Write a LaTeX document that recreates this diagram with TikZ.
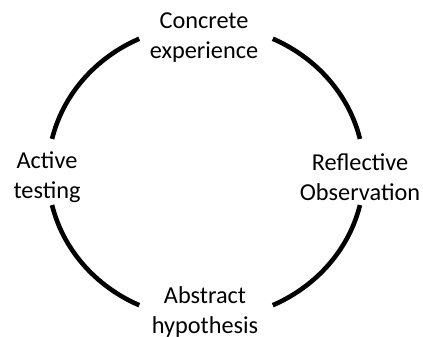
\documentclass[tikz,border=0pt]{standalone}
\usepackage{fontspec}
\setmainfont{Carlito}
\usepackage{tikz}
\usetikzlibrary{positioning, calc}

\tikzset{
	stage/.style = {align=center, font=\fontsize{24.3}{30}\selectfont, inner sep=0pt},
	cycle/.style = {line width=4.6pt, black}
}

\begin{document}
\begin{tikzpicture}[x=1pt, y=1pt]
						\useasboundingbox (0,0) rectangle (423,337);
						\coordinate (ctr) at (206,165);
						\node[stage] (ce) at (204,299) {Concrete\\experience};
						\node[stage] (ro) at (360,160) {Reflective\\Observation};
						\node[stage] (ah) at (205,25) {Abstract\\hypothesis};
						\node[stage] (at) at (47,160) {Active\\testing};
						% the four quarters of the cycle
						\foreach \a in {13, 115, 193, 295}
							\draw[cycle] ($(ctr)+(\a:158 and 147)$) arc[start angle=\a, delta angle=52, x radius=158, y radius=147];
				\end{tikzpicture}
\end{document}
